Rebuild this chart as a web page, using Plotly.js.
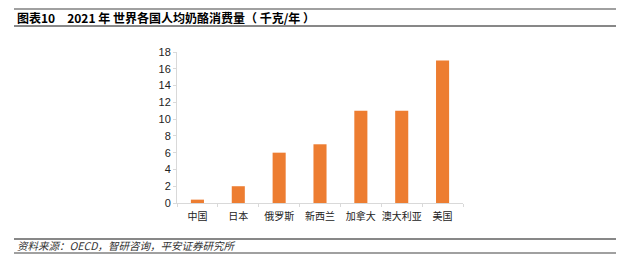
<!DOCTYPE html>
<html><head><meta charset="utf-8">
<script src="https://cdn.plot.ly/plotly-3.0.1.min.js"></script>
<style>html,body{margin:0;padding:0;background:#fff;}#chart{width:640px;height:261px;}</style>
</head><body><div id="chart"></div>
<script>
const categories = ["中国","日本","俄罗斯","新西兰","加拿大","澳大利亚","美国"];
const values = [0.4, 2, 6, 7, 11, 11, 17];
const yTicks = [0,2,4,6,8,10,12,14,16,18];
const titleText = "图表10　2021 年 世界各国人均奶酪消费量（ 千克/年 ）";
const sourceText = "资料来源：OECD，智研咨询，平安证券研究所";

const font = "Liberation Sans, Noto Sans CJK SC, sans-serif";
const W = 640, H = 261;
const L = 177, R = 463, T = 52, B = 203;
function px(x){ return (x - L) / (R - L); }
function py(y){ return (B - y) / (B - T); }

Plotly.newPlot("chart", [{
  type: "bar", x: categories, y: values,
  marker: {color: "#ED7D31"}, width: 0.32, hoverinfo: "skip"
}], {
  width: W, height: H,
  margin: {l: L, r: W - R, t: T, b: H - B, pad: 0},
  paper_bgcolor: "#fff", plot_bgcolor: "#fff",
  showlegend: false,
  font: {family: font, size: 11, color: "#222"},
  xaxis: {
    showline: true, linecolor: "#d9d9d9", linewidth: 1,
    ticks: "outside", tickson: "boundaries", ticklen: 3, tickcolor: "#d9d9d9",
    tickangle: 0, automargin: false, ticklabelstandoff: 4,
    tickfont: {family: "Noto Sans CJK SC, sans-serif", size: 10, color: "#222"},
    showgrid: false, zeroline: false, fixedrange: true
  },
  yaxis: {
    range: [0, 18], tickvals: yTicks, ticktext: yTicks.map(String),
    showline: true, linecolor: "#d9d9d9", linewidth: 1,
    ticks: "outside", ticklen: 3, tickcolor: "#d9d9d9",
    tickfont: {family: font, size: 11, color: "#222"},
    showgrid: false, zeroline: false, fixedrange: true, automargin: false
  },
  shapes: [
    {type: "line", xref: "paper", yref: "paper", x0: px(14), x1: px(616), y0: py(9), y1: py(9), line: {color: "#808080", width: 1.5}},
    {type: "line", xref: "paper", yref: "paper", x0: px(14), x1: px(616), y0: py(26), y1: py(26), line: {color: "#111", width: 1}},
    {type: "line", xref: "paper", yref: "paper", x0: px(14), x1: px(616), y0: py(239), y1: py(239), line: {color: "#111", width: 1}},
    {type: "line", xref: "paper", yref: "paper", x0: px(14), x1: px(616), y0: py(253), y1: py(253), line: {color: "#808080", width: 1.5}}
  ],
  annotations: [
    {xref: "paper", yref: "paper", x: px(15), y: py(18), xanchor: "left", yanchor: "middle", showarrow: false,
     text: "<b>" + titleText + "</b>", font: {family: "Noto Sans CJK SC, sans-serif", size: 12, color: "#000"}},
    {xref: "paper", yref: "paper", x: px(15), y: py(246), xanchor: "left", yanchor: "middle", showarrow: false,
     text: "<i>" + sourceText + "</i>", font: {family: "Noto Sans CJK SC, sans-serif", size: 10.5, color: "#333"}}
  ]
}, {staticPlot: true});
</script></body></html>
